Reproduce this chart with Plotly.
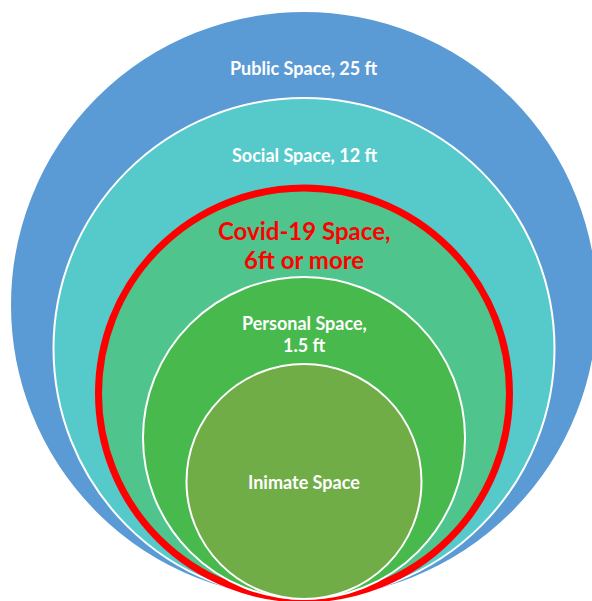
import plotly.graph_objects as go

# Nested proxemic zones, outermost first
zone_labels = ["Public Space, 25 ft", "Social Space, 12 ft", "Covid-19 Space,<br>6ft or more",
               "Personal Space,<br>1.5 ft", "Inimate Space"]
zone_radius = [294, 250.5, 205.5, 161, 117.5]   # (chart units)
zone_fill = ["#5B9BD5", "#56CACB", "#4FC48D", "#48B94D", "#70AD47"]
zone_line = ["#FFFFFF", "#FFFFFF", "#FF0000", "#FFFFFF", "#FFFFFF"]
zone_line_w = [2, 2, 7, 2, 2]
zone_text_color = ["#FFFFFF", "#FFFFFF", "#FF0000", "#FFFFFF", "#FFFFFF"]
zone_text_size = [18, 18, 24, 18, 18]

W, H = 592, 601
CX = 304          # common centre x
BASE = 2          # common tangent point at bottom
LABEL_DROP = 57   # label distance below each circle's top
LINE_GAP = 1.17   # line spacing in em

fig = go.Figure()
shapes = []
annotations = []
n = len(zone_labels)
for i, (lab, r) in enumerate(zip(zone_labels, zone_radius)):
    cy = BASE + r
    shapes.append(dict(type="circle", xref="x", yref="y",
                       x0=CX - r, x1=CX + r, y0=cy - r, y1=cy + r,
                       fillcolor=zone_fill[i],
                       line=dict(color=zone_line[i], width=zone_line_w[i]),
                       layer="below"))
    ly = cy if i == n - 1 else cy + r - LABEL_DROP
    lines = lab.split("<br>")
    gap = zone_text_size[i] * LINE_GAP
    for k, line in enumerate(lines):
        off = ((len(lines) - 1) / 2 - k) * gap
        annotations.append(dict(x=CX, y=ly + off, xref="x", yref="y",
                                text="<b>" + line + "</b>", showarrow=False,
                                font=dict(family="Lato, Open Sans, sans-serif",
                                          size=zone_text_size[i], color=zone_text_color[i]),
                                align="center"))

fig.add_trace(go.Scatter(x=[0, W], y=[0, H], mode="markers",
                         marker=dict(opacity=0), hoverinfo="skip", showlegend=False))

fig.update_layout(width=W, height=H, margin=dict(l=0, r=0, t=0, b=0),
                  paper_bgcolor="white", plot_bgcolor="white",
                  shapes=shapes, annotations=annotations, showlegend=False)
fig.update_xaxes(range=[0, W], visible=False, fixedrange=True)
fig.update_yaxes(range=[0, H], visible=False, fixedrange=True)

fig.write_html("out.html")
